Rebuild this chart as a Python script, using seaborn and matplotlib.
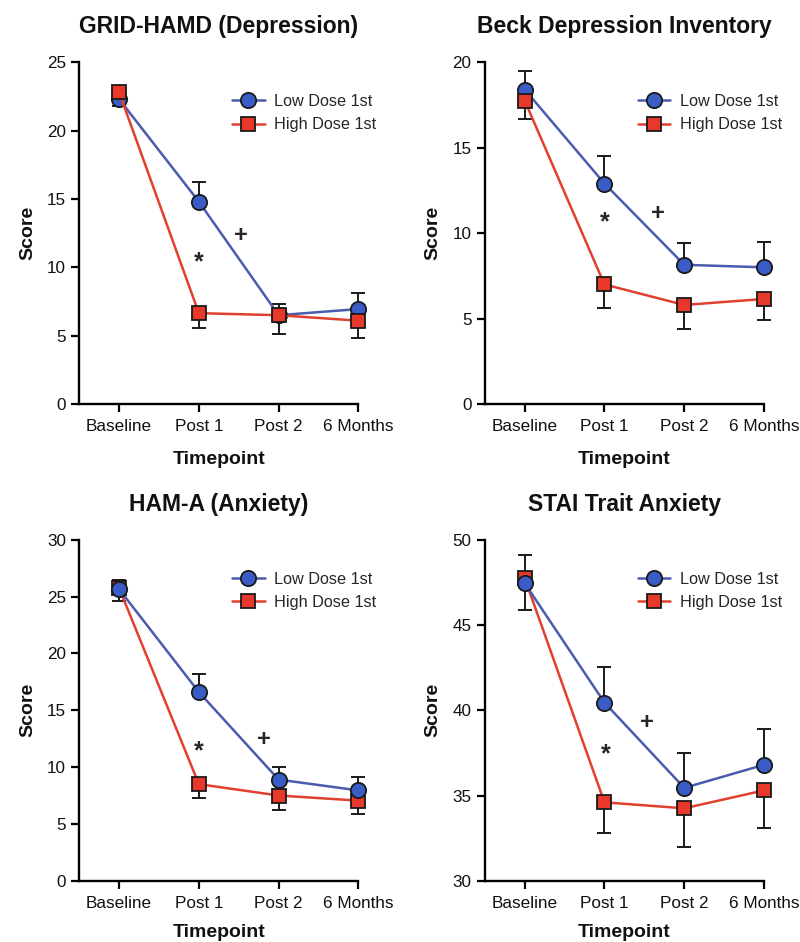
import numpy as np
import pandas as pd
import matplotlib
matplotlib.use('Agg')
import matplotlib.pyplot as plt
import seaborn as sns

sns.set_style('ticks')
plt.rcParams['font.family'] = ['Liberation Sans', 'DejaVu Sans']

timepoints = ['Baseline', 'Post 1', 'Post 2', '6 Months']
groups = ['Low Dose 1st', 'High Dose 1st']

titles = ['GRID-HAMD (Depression)', 'Beck Depression Inventory',
          'HAM-A (Anxiety)', 'STAI Trait Anxiety']

# means and one-sided errors (up for low dose, down for high dose)
hamd_low = [22.3, 14.8, 6.5, 6.95]
hamd_low_err = [0.8, 1.45, 0.85, 1.2]
hamd_high = [22.8, 6.65, 6.5, 6.1]
hamd_high_err = [1.0, 1.05, 1.4, 1.3]

bdi_low = [18.4, 12.9, 8.15, 8.0]
bdi_low_err = [1.1, 1.6, 1.25, 1.5]
bdi_high = [17.75, 7.0, 5.8, 6.15]
bdi_high_err = [1.05, 1.4, 1.42, 1.25]

hama_low = [25.65, 16.6, 8.9, 7.95]
hama_low_err = [0.85, 1.6, 1.15, 1.2]
hama_high = [25.75, 8.5, 7.5, 7.05]
hama_high_err = [1.1, 1.2, 1.3, 1.15]

stai_low = [47.45, 40.45, 35.45, 36.8]
stai_low_err = [1.65, 2.1, 2.05, 2.1]
stai_high = [47.75, 34.6, 34.25, 35.3]
stai_high_err = [1.85, 1.82, 2.25, 2.2]

# significance marks: (x position, y value)
star_pos = [(1.0, 10.4), (1.0, 10.65), (1.0, 11.4), (1.02, 37.4)]
plus_pos = [(1.53, 12.3), (1.67, 11.15), (1.81, 12.4), (1.53, 39.3)]

ylims = [(0, 25), (0, 20), (0, 30), (30, 50)]
yticks = [np.arange(0, 26, 5), np.arange(0, 21, 5), np.arange(0, 31, 5), np.arange(30, 51, 5)]

panels = [
    (hamd_low, hamd_low_err, hamd_high, hamd_high_err),
    (bdi_low, bdi_low_err, bdi_high, bdi_high_err),
    (hama_low, hama_low_err, hama_high, hama_high_err),
    (stai_low, stai_low_err, stai_high, stai_high_err),
]
high_on_top = [True, True, False, False]

blue_fill = '#3a5cc6'
blue_line = '#4a5cae'
red_fill = '#e8382b'
red_line = '#e2402f'

fig = plt.figure(figsize=(8, 9.42), dpi=100)
positions = [
    [0.099, 0.571, 0.349, 0.363],
    [0.606, 0.571, 0.349, 0.363],
    [0.099, 0.065, 0.349, 0.362],
    [0.606, 0.065, 0.349, 0.362],
]

x = np.arange(len(timepoints))

for i, (low, low_err, high, high_err) in enumerate(panels):
    ax = fig.add_axes(positions[i])
    df = pd.DataFrame({
        'Timepoint': np.tile(x, 2),
        'Score': low + high,
        'Group': [groups[0]] * 4 + [groups[1]] * 4,
    })
    z_low, z_high = (3, 4) if high_on_top[i] else (4, 3)

    # error bars (one-sided)
    ax.errorbar(x, low, yerr=[np.zeros(4), low_err], fmt='none', ecolor='#1a1a1a',
                elinewidth=1.4, capsize=5, capthick=1.4, zorder=1, clip_on=False)
    ax.errorbar(x, high, yerr=[high_err, np.zeros(4)], fmt='none', ecolor='#1a1a1a',
                elinewidth=1.4, capsize=5, capthick=1.4, zorder=1, clip_on=False)

    for g, col, lcol, mk, z in [(groups[0], blue_fill, blue_line, 'o', z_low),
                                (groups[1], red_fill, red_line, 's', z_high)]:
        sub = df[df['Group'] == g]
        sns.lineplot(data=sub, x='Timepoint', y='Score', color=lcol, linewidth=1.8,
                     marker=mk, markersize=11 if mk == 'o' else 10.5,
                     markerfacecolor=col, markeredgecolor='#1a1a1a',
                     markeredgewidth=1.3, label=g, ax=ax, zorder=z, clip_on=False)

    ax.set_xlim(-0.5, 3.0)
    ax.set_ylim(*ylims[i])
    ax.set_yticks(yticks[i])
    ax.set_xticks(x)
    ax.set_xticklabels(timepoints)
    ax.tick_params(axis='both', labelsize=12.3, width=1.6, length=6, color='black',
                   labelcolor='#111111')
    ax.tick_params(axis='x', pad=5)
    for sp in ['left', 'bottom']:
        ax.spines[sp].set_linewidth(1.7)
        ax.spines[sp].set_color('black')
    sns.despine(ax=ax)

    ax.set_title(titles[i], fontsize=16.5, fontweight='bold', pad=21, color='#111111')
    ax.set_xlabel('Timepoint', fontsize=14, fontweight='bold',
                  labelpad=12 if i < 2 else 9, color='#111111')
    ax.set_ylabel('Score', fontsize=14, fontweight='bold', labelpad=8, color='#111111')

    sx, sy = star_pos[i]
    ax.text(sx, sy, '*', fontsize=18, fontweight='bold', ha='center', va='center')
    px, py = plus_pos[i]
    ax.text(px, py, '+', fontsize=17, fontweight='bold', ha='center', va='center')

    leg = ax.legend(loc='upper right', bbox_to_anchor=(1.10, 0.935), frameon=False,
                    fontsize=11.7, handlelength=2.0, handletextpad=0.6,
                    labelspacing=0.5, borderaxespad=0.2)

fig.savefig('out.png', dpi=100)
